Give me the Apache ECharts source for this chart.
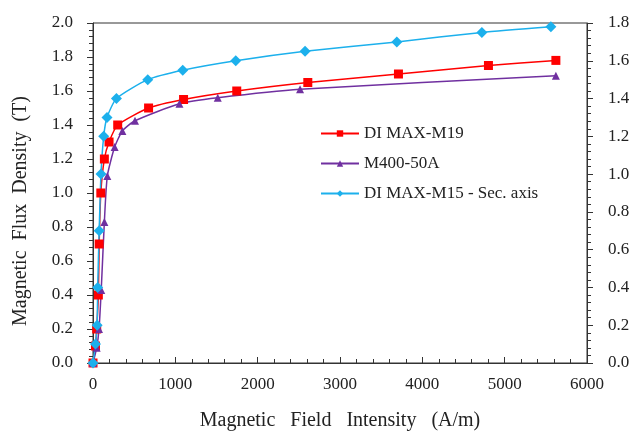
<!DOCTYPE html>
<html><head><meta charset="utf-8">
<script src="https://cdn.jsdelivr.net/npm/echarts@6/dist/echarts.min.js"></script>
<style>html,body{margin:0;padding:0;background:#fff}#c{width:635px;height:432px}</style>
</head><body><div id="c"></div>
<script>
const seriesNames = ['DI MAX-M19', 'M400-50A', 'DI MAX-M15 - Sec. axis'];
const m19H = [0, 30, 45, 65, 75, 95, 138, 195, 300, 675, 1100, 1746, 2609, 3710, 4803, 5622];
const m19B = [0, 0.1, 0.2, 0.4, 0.7, 1.0, 1.2, 1.3, 1.4, 1.5, 1.55, 1.6, 1.65, 1.7, 1.75, 1.78];
const m400H = [0, 45, 73, 100, 138, 174, 263, 357, 510, 1050, 1515, 2515, 5622];
const m400B = [0, 0.09, 0.2, 0.43, 0.83, 1.1, 1.27, 1.365, 1.425, 1.525, 1.56, 1.61, 1.69];
const m15H = [0, 30, 50, 57, 75, 97, 130, 170, 285, 665, 1090, 1734, 2576, 3690, 4723, 5561];
const m15B = [0, 0.1, 0.2, 0.4, 0.7, 1.0, 1.2, 1.3, 1.4, 1.5, 1.55, 1.6, 1.65, 1.7, 1.75, 1.78];
const xTitle = 'Magnetic   Field   Intensity   (A/m)';
const yTitle = 'Magnetic  Flux  Density  (T)';

const font = "Liberation Serif";
const axisCol = '#333';
const zip = (a, b) => a.map((v, i) => [v, b[i]]);

const chart = echarts.init(document.getElementById('c'), null, {renderer: 'canvas'});
chart.setOption({
  animation: false,
  backgroundColor: '#fff',
  grid: {left: 93, right: 48, top: 23, bottom: 69, containLabel: false, outerBoundsMode: 'none',
    show: true, borderColor: axisCol, borderWidth: 1, backgroundColor: 'transparent'},
  legend: {
    orient: 'vertical', left: 315, top: 120, itemGap: 13, itemWidth: 38, itemHeight: 8,
    textStyle: {fontFamily: font, fontSize: 17, color: '#222'},
    data: seriesNames
  },
  xAxis: {
    type: 'value', min: 0, max: 6000, interval: 1000,
    name: xTitle, nameLocation: 'middle', nameGap: 48,
    nameTextStyle: {fontFamily: font, fontSize: 20, color: '#222'},
    axisLine: {lineStyle: {color: axisCol, width: 1}},
    axisTick: {inside: true, length: 6, lineStyle: {color: axisCol}},
    minorTick: {show: true, splitNumber: 5, length: 4, lineStyle: {color: axisCol}},
    axisLabel: {fontFamily: font, fontSize: 17, color: '#222', margin: 13, formatter: v => String(v)},
    splitLine: {show: false}
  },
  yAxis: [{
    type: 'value', min: 0, max: 2.0, interval: 0.2, position: 'left',
    name: yTitle, nameLocation: 'middle', nameGap: 62, nameRotate: 90,
    nameTextStyle: {fontFamily: font, fontSize: 20, color: '#222', padding: [0, 36, 0, 0]},
    axisLine: {show: true, lineStyle: {color: axisCol, width: 1}},
    axisTick: {inside: false, length: 6, lineStyle: {color: axisCol}},
    minorTick: {show: true, splitNumber: 5, length: 4, lineStyle: {color: axisCol}},
    axisLabel: {fontFamily: font, fontSize: 17, color: '#222', margin: 20, formatter: v => v.toFixed(1)},
    splitLine: {show: false}
  }, {
    type: 'value', min: 0, max: 1.8, interval: 0.2, position: 'right',
    axisLine: {show: true, lineStyle: {color: axisCol, width: 1}},
    axisTick: {inside: false, length: 6, lineStyle: {color: axisCol}},
    minorTick: {show: true, splitNumber: 5, length: 4, lineStyle: {color: axisCol}},
    axisLabel: {fontFamily: font, fontSize: 17, color: '#222', margin: 21, formatter: v => v.toFixed(1)},
    splitLine: {show: false}
  }],
  series: [{
    name: seriesNames[0], type: 'line', yAxisIndex: 0, smooth: 0.2,
    data: zip(m19H, m19B), symbol: 'rect', symbolSize: 9,
    itemStyle: {color: '#ff0000'}, lineStyle: {color: '#ff0000', width: 1.5}
  }, {
    name: seriesNames[1], type: 'line', yAxisIndex: 0, smooth: 0.2,
    data: zip(m400H, m400B), symbol: 'triangle', symbolSize: 8,
    itemStyle: {color: '#7030a0'}, lineStyle: {color: '#7030a0', width: 1.5}
  }, {
    name: seriesNames[2], type: 'line', yAxisIndex: 1, smooth: 0.2,
    data: zip(m15H, m15B), symbol: 'diamond', symbolSize: 11,
    itemStyle: {color: '#1cb0ec'}, lineStyle: {color: '#1cb0ec', width: 1.5}
  }]
});
</script></body></html>
